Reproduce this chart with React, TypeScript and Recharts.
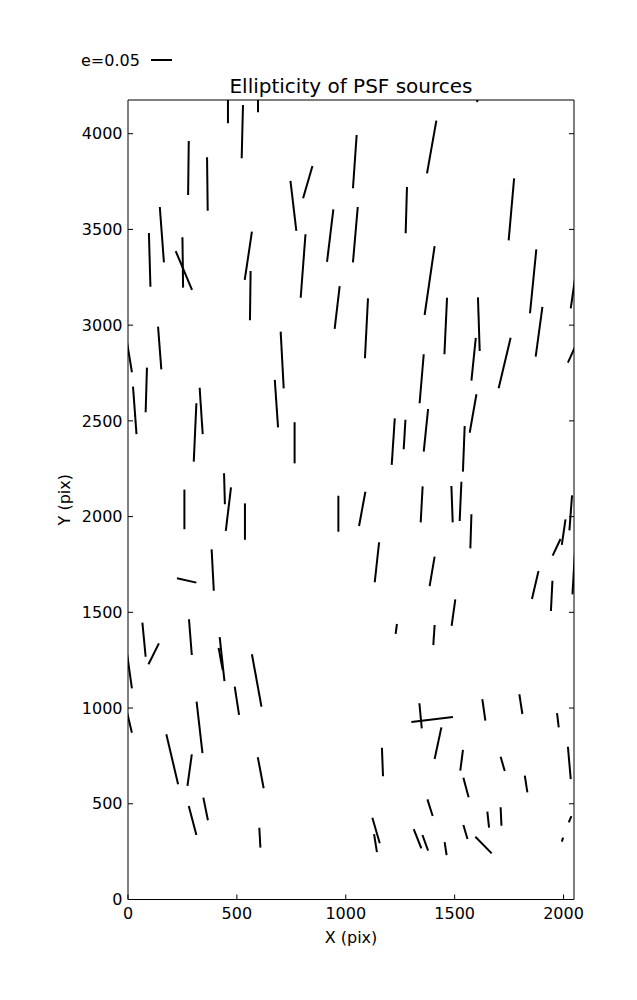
import React from 'react';
import { ComposedChart, XAxis, YAxis, ReferenceLine, Label, Scatter } from 'recharts';

const chartTitle = 'Ellipticity of PSF sources';
const xAxisTitle = 'X (pix)';
const yAxisTitle = 'Y (pix)';
const legendLabel = 'e=0.05';

const xDomain: [number, number] = [0, 2048];
const yDomain: [number, number] = [0, 4176];
const xTicks = [0, 500, 1000, 1500, 2000];
const yTicks = [0, 500, 1000, 1500, 2000, 2500, 3000, 3500, 4000];

// Whiskers: [x1, y1, x2, y2] in pixel coordinates of the detector (data units)
const whiskers: [number, number, number, number][] = [
  [459, 4200, 459, 4054],
  [528, 4150, 522, 3872],
  [597, 4190, 597, 4112],
  [279, 3962, 276, 3680],
  [363, 3877, 366, 3598],
  [746, 3753, 773, 3493],
  [847, 3831, 804, 3663],
  [943, 3605, 914, 3331],
  [146, 3617, 165, 3328],
  [96, 3481, 103, 3201],
  [250, 3459, 253, 3196],
  [219, 3387, 294, 3184],
  [569, 3488, 536, 3236],
  [815, 3475, 793, 3143],
  [1050, 3993, 1033, 3715],
  [1416, 4068, 1373, 3793],
  [1281, 3722, 1275, 3480],
  [1773, 3767, 1748, 3443],
  [1055, 3617, 1033, 3328],
  [1408, 3413, 1362, 3053],
  [1875, 3396, 1846, 3062],
  [1603, 4200, 1604, 4165],
  [563, 3283, 560, 3025],
  [972, 3204, 949, 2980],
  [138, 2992, 153, 2769],
  [701, 2966, 715, 2670],
  [-5, 2915, 18, 2754],
  [87, 2778, 81, 2545],
  [23, 2679, 39, 2431],
  [329, 2673, 343, 2431],
  [314, 2592, 302, 2287],
  [674, 2714, 689, 2466],
  [1102, 3140, 1088, 2827],
  [1465, 3143, 1453, 2848],
  [1607, 3145, 1615, 2865],
  [1903, 3096, 1872, 2835],
  [2060, 3300, 2033, 3088],
  [2060, 2905, 2020, 2804],
  [1597, 2934, 1577, 2710],
  [1757, 2934, 1702, 2670],
  [1358, 2848, 1339, 2592],
  [1600, 2639, 1569, 2438],
  [1378, 2562, 1358, 2339],
  [1225, 2513, 1211, 2270],
  [1274, 2506, 1266, 2352],
  [765, 2493, 765, 2278],
  [441, 2226, 445, 2064],
  [473, 2153, 449, 1925],
  [259, 2141, 259, 1934],
  [537, 2069, 537, 1879],
  [966, 2109, 966, 1921],
  [384, 1829, 394, 1613],
  [225, 1678, 314, 1655],
  [1546, 2473, 1538, 2235],
  [1090, 2130, 1061, 1951],
  [1353, 2158, 1344, 1970],
  [1485, 2160, 1491, 1970],
  [1531, 2182, 1523, 1977],
  [1577, 2012, 1572, 1834],
  [2039, 2111, 2027, 1928],
  [2009, 1986, 1992, 1852],
  [1986, 1883, 1950, 1796],
  [1153, 1866, 1133, 1657],
  [1408, 1791, 1385, 1637],
  [1885, 1716, 1855, 1570],
  [2052, 1810, 2041, 1594],
  [1949, 1665, 1942, 1507],
  [66, 1446, 81, 1268],
  [142, 1338, 94, 1229],
  [280, 1464, 293, 1277],
  [421, 1370, 443, 1141],
  [416, 1314, 435, 1199],
  [-4, 1280, 18, 1103],
  [490, 1112, 510, 964],
  [569, 1281, 613, 1007],
  [315, 1033, 342, 764],
  [-4, 975, 18, 871],
  [176, 863, 230, 602],
  [1235, 1439, 1229, 1387],
  [1408, 1434, 1402, 1329],
  [1503, 1568, 1486, 1429],
  [1338, 1025, 1349, 894],
  [1301, 927, 1492, 953],
  [1439, 899, 1408, 734],
  [1627, 1047, 1641, 934],
  [1797, 1072, 1811, 969],
  [1970, 973, 1978, 899],
  [293, 758, 273, 593],
  [596, 743, 623, 581],
  [346, 532, 367, 414],
  [279, 488, 314, 337],
  [603, 375, 608, 271],
  [1166, 793, 1171, 644],
  [1538, 782, 1526, 673],
  [1711, 746, 1730, 671],
  [2020, 798, 2033, 629],
  [1822, 647, 1834, 560],
  [1540, 636, 1564, 534],
  [1375, 523, 1399, 436],
  [1122, 427, 1156, 294],
  [1130, 341, 1143, 247],
  [1312, 367, 1347, 267],
  [1352, 337, 1378, 255],
  [1454, 300, 1463, 232],
  [1540, 389, 1559, 316],
  [1650, 459, 1658, 375],
  [1711, 482, 1715, 385],
  [1595, 328, 1670, 241],
  [2036, 436, 2024, 403],
  [1998, 323, 1992, 302],
];

const centers = whiskers.map(([x1, y1, x2, y2]) => ({ x: (x1 + x2) / 2, y: (y1 + y2) / 2 }));

const FONT = 'DejaVu Sans';
const tickStyle = { fill: '#000', fontSize: 16, fontFamily: FONT };
const noLabel = () => <g />;

const TopDecor = (props: any) => {
  const vb = props.viewBox || { x: 0, y: 0, width: 0, height: 0 };
  const cx = vb.x + vb.width / 2;
  const base = vb.y + vb.height;
  return (
    <g>
      <text x={cx} y={base - 7} textAnchor="middle" fontSize={20} fontFamily={FONT} fill="#000">
        {chartTitle}
      </text>
      <text x={vb.x - 47} y={vb.y - 4} textAnchor="start" fontSize={16} fontFamily={FONT} fill="#000">
        {legendLabel}
      </text>
      <line x1={vb.x + 23} x2={vb.x + 44} y1={vb.y - 10} y2={vb.y - 10} stroke="#000" strokeWidth={2} />
    </g>
  );
};

const YTitle = (props: any) => {
  const vb = props.viewBox || { x: 0, y: 0, width: 0, height: 0 };
  const cx = vb.x - 4;
  const cy = vb.y + vb.height / 2;
  return (
    <text
      x={cx}
      y={cy}
      textAnchor="middle"
      dominantBaseline="central"
      fontSize={16}
      fontFamily={FONT}
      fill="#000"
      transform={`rotate(-90 ${cx} ${cy})`}
    >
      {yAxisTitle}
    </text>
  );
};

export default function App() {
  return (
    <div style={{ width: 620, height: 980, fontFamily: FONT }}>
      <ComposedChart
        width={620}
        height={980}
        margin={{ top: 62, right: 44, bottom: 38.5, left: 60 }}
        style={{ fontFamily: FONT }}
      >
        <XAxis
          xAxisId={0}
          dataKey="x"
          type="number"
          domain={xDomain}
          ticks={xTicks}
          allowDataOverflow
          height={50}
          tickSize={-5}
          tickMargin={13}
          tick={tickStyle}
          axisLine={{ stroke: '#000', strokeWidth: 1 }}
          tickLine={{ stroke: '#000', strokeWidth: 1 }}
        >
          <Label value={xAxisTitle} position="insideBottom" offset={7} fill="#000" fontSize={16} fontFamily={FONT} />
        </XAxis>
        <XAxis
          xAxisId="top"
          orientation="top"
          type="number"
          domain={xDomain}
          ticks={xTicks}
          allowDataOverflow
          height={30}
          tickSize={-5}
          tick={noLabel}
          axisLine={{ stroke: '#000', strokeWidth: 1 }}
          tickLine={{ stroke: '#000', strokeWidth: 1 }}
        >
          <Label content={TopDecor} />
        </XAxis>
        <YAxis
          yAxisId={0}
          dataKey="y"
          type="number"
          domain={yDomain}
          ticks={yTicks}
          allowDataOverflow
          width={60}
          tickSize={-5}
          tickMargin={10.5}
          tick={tickStyle}
          axisLine={{ stroke: '#000', strokeWidth: 1 }}
          tickLine={{ stroke: '#000', strokeWidth: 1 }}
        >
          <Label content={YTitle} />
        </YAxis>
        <YAxis
          yAxisId="right"
          orientation="right"
          type="number"
          domain={yDomain}
          ticks={yTicks}
          allowDataOverflow
          width={10}
          tickSize={-5}
          tick={noLabel}
          axisLine={{ stroke: '#000', strokeWidth: 1 }}
          tickLine={{ stroke: '#000', strokeWidth: 1 }}
        />
        <Scatter
          data={centers}
          xAxisId={0}
          yAxisId={0}
          isAnimationActive={false}
          shape={() => <g />}
        />
        {whiskers.map(([x1, y1, x2, y2], i) => (
          <ReferenceLine
            key={i}
            xAxisId={0}
            yAxisId={0}
            segment={[{ x: x1, y: y1 }, { x: x2, y: y2 }]}
            stroke="#000"
            strokeWidth={2}
            ifOverflow="hidden"
          />
        ))}
      </ComposedChart>
    </div>
  );
}
